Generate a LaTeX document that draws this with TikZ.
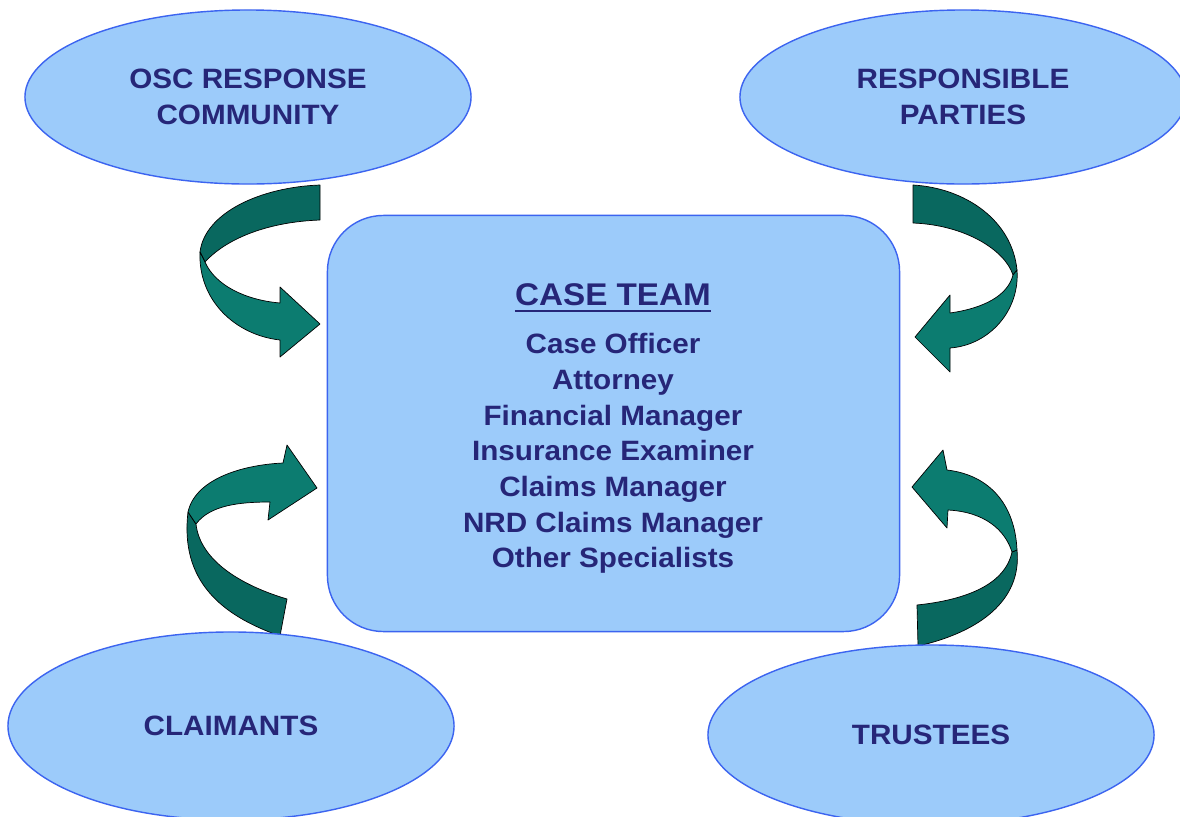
\documentclass[tikz,border=0pt]{standalone}
\usepackage{fontspec}
\setmainfont{Liberation Sans}[FakeStretch=1.06]
\usetikzlibrary{shapes.geometric}
\definecolor{ellfill}{RGB}{156,203,250}
\definecolor{ellline}{RGB}{60,100,240}
\definecolor{navy}{RGB}{38,38,120}
\definecolor{tealA}{RGB}{12,124,112}
\definecolor{tealB}{RGB}{9,104,95}
\begin{document}
\begin{tikzpicture}[x=0.025cm,y=-0.025cm,
  party/.style={ellipse, draw=ellline, line width=1pt, fill=ellfill,
    minimum width=11.15cm, minimum height=4.35cm, inner sep=0pt,
    text=navy, font=\bfseries\fontsize{19.9}{25.6}\selectfont, align=center},
  teambox/.style={draw=ellline, line width=1pt, fill=ellfill,
    rounded corners=1.4cm, minimum width=14.3cm, minimum height=10.4cm},
  teamtext/.style={text=navy, inner sep=0pt, align=center,
    font=\bfseries\fontsize{19.9}{25.4}\selectfont},
  ribbonfront/.style={fill=tealA, draw=black, line width=0.5pt, line join=round},
  ribbonback/.style={fill=tealB, draw=black, line width=0.5pt, line join=round}]
\useasboundingbox (0,0) rectangle (1180,817);
\clip (0,0) rectangle (1180,817);
\fill[white] (0,0) rectangle (1180,817);

% curved arrows
% top-left
\draw[ribbonback] (320,185) .. controls (262,187) and (205,212) .. (200,252)
  -- (205,262) .. controls (225,240) and (265,222) .. (320,220) -- cycle;
\draw[ribbonfront] (200,252) .. controls (198,300) and (235,335) .. (280,340)
  -- (280,357) -- (320,324) -- (280,287) -- (280,303)
  .. controls (245,300) and (215,285) .. (205,262) -- cycle;
% top-right
\draw[ribbonback] (913,185) .. controls (965,188) and (1012,220) .. (1017,270)
  -- (1013,275) .. controls (1005,250) and (965,225) .. (913,223) -- cycle;
\draw[ribbonfront] (1017,270) .. controls (1020,310) and (990,345) .. (950,348)
  -- (950,372) -- (915,337) -- (950,295) -- (950,313)
  .. controls (985,308) and (1008,295) .. (1013,275) -- cycle;
% bottom-left
\draw[ribbonback] (280,636) .. controls (220,615) and (180,580) .. (188,512)
  -- (196,524) .. controls (200,560) and (240,585) .. (287,599) -- cycle;
\draw[ribbonfront] (188,512) .. controls (195,480) and (240,465) .. (283,463)
  -- (287,445) -- (317,488) -- (268,520) -- (270,502)
  .. controls (240,502) and (210,505) .. (196,524) -- cycle;
% bottom-right
\draw[ribbonback] (918,646) .. controls (980,632) and (1022,600) .. (1017,550)
  -- (1012,552) .. controls (1005,585) and (965,600) .. (917,605) -- cycle;
\draw[ribbonfront] (947,470) .. controls (990,475) and (1015,505) .. (1017,550)
  -- (1012,552) .. controls (1005,530) and (985,512) .. (948,510)
  -- (947,528) -- (912,487) -- (943,450) -- cycle;

% parties
\node[party] (osc) at (248,97) {OSC RESPONSE\\COMMUNITY};
\node[party] (rp) at (963,97) {RESPONSIBLE\\PARTIES};
\node[party, minimum height=4.7cm] (cl) at (231,726) {CLAIMANTS};
\node[party, minimum height=4.5cm] (tr) at (931,735) {TRUSTEES};

% case team
\node[teambox] (team) at (613.5,423.5) {};
\node[teamtext, font=\bfseries\fontsize{22.3}{26}\selectfont] (title) at (613,295) {CASE TEAM};
\draw[navy, line width=1.3pt] ([yshift=-3.2pt]title.south west) -- ([yshift=-3.2pt]title.south east);
\node[teamtext, anchor=north] (members) at (613,333)
  {Case Officer\\Attorney\\Financial Manager\\Insurance Examiner\\Claims Manager\\NRD Claims Manager\\Other Specialists};
\end{tikzpicture}
\end{document}
